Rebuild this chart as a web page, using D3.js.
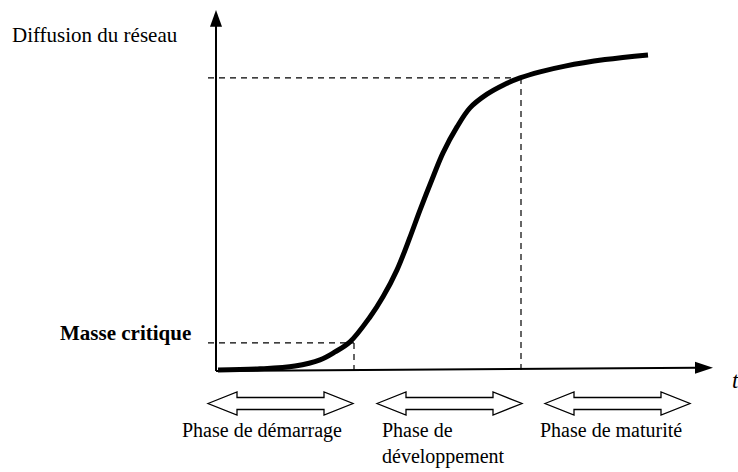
<!DOCTYPE html>
<html><head><meta charset="utf-8">
<script src="https://cdn.jsdelivr.net/npm/d3@7"></script>
<style>html,body{margin:0;padding:0;background:#fff}svg{display:block}</style>
</head><body>
<svg id="c" width="738" height="472"></svg>
<script>
// Data (t, diffusion)
const timeValues      = [0.4, 8.8, 15.8, 20.8, 23.8, 26.8, 30.8, 33.4, 36.2, 38.8, 40.8, 43.4, 45.4, 48.2, 50.8, 54.2, 57.4, 60.8, 64.8, 69.8, 77.8, 86.4];
const diffusionValues = [0.3, 0.6, 1.4, 3.1, 5.3, 8.1, 15.0, 20.6, 28.1, 37.2, 44.7, 53.9, 60.6, 67.8, 73.1, 76.9, 79.4, 81.4, 83.1, 84.7, 86.5, 87.8];
const criticalMass = {t: 27.6, value: 7.8};
const maturityPoint = {t: 61.0, value: 81.4};
const phaseLabels = [["Phase de démarrage"], ["Phase de", "développement"], ["Phase de maturité"]];
const phaseStart = [-1.6, 32.2, 65.8];
const phaseEnd   = [27.4, 61.2, 94.8];
const labelStart = [-6.8, 33.2, 64.8];

const svg = d3.select("#c");
const x = d3.scaleLinear().domain([0, 100]).range([216, 716]);
const y = d3.scaleLinear().domain([0, 100]).range([371, 11]);
const serif = "'Liberation Serif','Times New Roman',serif";

// dashed guides
const guides = svg.append("g").attr("stroke", "#000").attr("stroke-width", 1.2)
  .attr("stroke-dasharray", "6,5").attr("fill", "none");
[criticalMass, maturityPoint].forEach(p => {
  guides.append("line").attr("x1", x(-1.6)).attr("x2", x(p.t)).attr("y1", y(p.value)).attr("y2", y(p.value));
  guides.append("line").attr("x1", x(p.t)).attr("x2", x(p.t)).attr("y1", y(p.value)).attr("y2", y(0.2));
});

// axes
const axes = svg.append("g");
axes.append("line").attr("x1", x(0)).attr("x2", x(0)).attr("y1", y(0)).attr("y2", y(96))
  .attr("stroke", "#000").attr("stroke-width", 2);
axes.append("path").attr("d", `M${x(0)},${y(100)-1} L${x(0)-6},${y(95.6)} L${x(0)+6},${y(95.6)} Z`).attr("fill", "#000");
const xEndT = 96.2, xEndV = 0.9;
axes.append("line").attr("x1", x(0)).attr("x2", x(xEndT)).attr("y1", y(0)).attr("y2", y(xEndV))
  .attr("stroke", "#000").attr("stroke-width", 2);
axes.append("path").attr("d", `M${x(99.4)},${y(xEndV)} L${x(95.8)},${y(xEndV)-6} L${x(95.8)},${y(xEndV)+6} Z`).attr("fill", "#000");

// curve
const pts = timeValues.map((t, i) => [t, diffusionValues[i]]);
svg.append("path").datum(pts)
  .attr("d", d3.line().x(d => x(d[0])).y(d => y(d[1])).curve(d3.curveCatmullRom.alpha(0.5)))
  .attr("fill", "none").attr("stroke", "#000").attr("stroke-width", 5).attr("stroke-linecap", "butt");

// phase double arrows
const ay = 403.5, headH = 11.5, shaftH = 6, headL = 29;
phaseStart.forEach((s, i) => {
  const a = x(s), b = x(phaseEnd[i]);
  const d = `M${a},${ay} L${a+headL},${ay-headH} L${a+headL},${ay-shaftH} L${b-headL},${ay-shaftH} L${b-headL},${ay-headH} L${b},${ay} L${b-headL},${ay+headH} L${b-headL},${ay+shaftH} L${a+headL},${ay+shaftH} L${a+headL},${ay+headH} Z`;
  svg.append("path").attr("d", d).attr("fill", "#fff").attr("stroke", "#000").attr("stroke-width", 1.3);
});

// phase labels
phaseLabels.forEach((lines, i) => {
  const t = svg.append("text").attr("font-family", serif).attr("font-size", 20).attr("fill", "#000");
  lines.forEach((ln, j) => t.append("tspan").attr("x", x(labelStart[i])).attr("y", 437 + j * 26).text(ln));
});

// axis labels
svg.append("text").attr("x", 12).attr("y", 42).attr("font-family", serif).attr("font-size", 21).text("Diffusion du réseau");
svg.append("text").attr("x", 60).attr("y", 340).attr("font-family", serif).attr("font-size", 21).attr("font-weight", "bold").text("Masse critique");
svg.append("text").attr("x", 732).attr("y", 388).attr("font-family", serif).attr("font-size", 23).attr("font-style", "italic").text("t");
</script>
</body></html>
